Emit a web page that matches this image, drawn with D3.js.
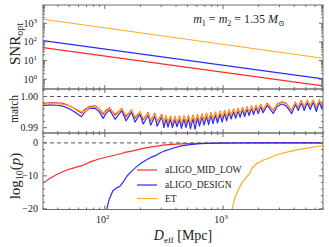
<!DOCTYPE html>
<html lang="en">
<head>
<meta charset="UTF-8">
<title>SNR, match and log10(p) vs D_eff</title>
<script src="https://d3js.org/d3.v7.min.js"></script>
<style>
    body { margin: 0; background: #fff; }
    svg { display: block; font-family: "Liberation Serif", "DejaVu Serif", serif; }
    .frame { fill: none; stroke: #6e6e6e; stroke-width: 1; }
    .tk { stroke: #6e6e6e; stroke-width: 1; }
    .lbl { font-size: 10px; fill: #222; }
</style>
</head>
<body>
<svg id="chart"></svg>
<script>
// ---- data ----
const seriesNames = ["aLIGO_MID_LOW", "aLIGO_DESIGN", "ET"];

// top panel: optimal SNR (straight lines on log-log)
const snrD = [30, 7000];
const snrMidLow = [49, 0.44];
const snrDesign = [117, 1.04];
const snrET = [1640, 13.3];

// middle panel: match
const matchD = [30.0, 34.2, 39.2, 44.1, 50.5, 56.8, 63.5, 67.7, 74.7, 82.3, 89.0, 96.8, 102, 110, 122, 139, 151, 168, 180, 198,
    211, 233, 244, 265, 277, 303, 316, 329, 342, 359, 373, 392, 407, 428, 445, 467, 486, 510, 530, 557,
    579, 608, 632, 664, 690, 725, 754, 791, 822, 863, 897, 944, 981, 1030, 1072, 1125, 1170, 1228, 1277, 1340,
    1393, 1463, 1521, 1597, 1661, 1744, 1813, 1903, 1979, 2078, 2182, 2360, 2655, 2871, 3134, 3420, 3808, 4077, 4325, 4585,
    4858, 5148, 5456, 5791, 6138, 6513, 6840, 7000];
const matchMidLow = [.9978, .9980, .9980, .9978, .9970, .9958, .9947, .9958, .9968, .9970, .9962, .9943, .9955, .9964, .9940, .9962, .9935, .9957, .9930, .9951,
    .9925, .9949, .9922, .9946, .9919, .9943, .9914, .9938, .9915, .9937, .9913, .9936, .9914, .9937, .9912, .9938, .9915, .9939, .9914, .9940,
    .9916, .9942, .9919, .9944, .9921, .9946, .9923, .9948, .9926, .9950, .9928, .9953, .9931, .9955, .9934, .9958, .9938, .9960, .9940, .9962,
    .9943, .9965, .9946, .9967, .9948, .9970, .9951, .9972, .9954, .9975, .9957, .9979, .9956, .9976, .9983, .9978, .9955, .9982, .9965, .9987,
    .9966, .9988, .9970, .9989, .9965, .9989, .9972, .9985];
const matchDesign = [.9971, .9973, .9972, .9969, .9960, .9948, .9935, .9950, .9962, .9963, .9953, .9930, .9945, .9957, .9927, .9955, .9922, .9950, .9918, .9944,
    .9912, .9940, .9908, .9937, .9905, .9935, .9900, .9930, .9902, .9928, .9900, .9926, .9903, .9927, .9898, .9928, .9900, .9930, .9896, .9930,
    .9895, .9932, .9905, .9934, .9908, .9937, .9910, .9939, .9913, .9941, .9915, .9944, .9918, .9946, .9922, .9950, .9928, .9952, .9930, .9954,
    .9933, .9957, .9936, .9960, .9939, .9962, .9942, .9965, .9945, .9968, .9948, .9972, .9946, .9968, .9976, .9970, .9945, .9975, .9955, .9980,
    .9955, .9980, .9958, .9982, .9952, .9982, .9960, .9978];
const matchET = [.9975, .9977, .9977, .9975, .9970, .9960, .9952, .9951, .9964, .9968, .9962, .9948, .9950, .9962, .9945, .9960, .9940, .9955, .9935, .9950,
    .9930, .9946, .9925, .9943, .9922, .9940, .9917, .9936, .9918, .9935, .9916, .9934, .9916, .9935, .9915, .9936, .9917, .9937, .9916, .9938,
    .9918, .9940, .9921, .9942, .9923, .9944, .9925, .9946, .9928, .9948, .9930, .9951, .9933, .9953, .9936, .9956, .9940, .9958, .9942, .9960,
    .9945, .9963, .9948, .9965, .9950, .9968, .9953, .9970, .9956, .9973, .9959, .9977, .9958, .9974, .9981, .9976, .9957, .9980, .9967, .9985,
    .9968, .9986, .9972, .9987, .9967, .9987, .9974, .9983];

// bottom panel: log10(p)
const pMidLowD = [30, 34.2, 39.2, 47, 55.7, 65.1, 77.5, 90.7, 106, 126, 148, 173, 202, 241, 323, 432, 636, 1144, 2250, 7000];
const pMidLow = [-12.2, -10.8, -9.6, -8.3, -7.5, -6.8, -5.6, -4.8, -4.2, -3.6, -2.9, -2.4, -1.8, -1.3, -0.6, -0.3, -0.12, -0.04, -0.01, 0];
const pDesignD = [103.4, 108.1, 116.9, 126.4, 134, 142, 153, 166, 186, 205, 226, 249, 274, 298, 322, 370, 432, 525, 638, 855, 1393, 7000];
const pDesign = [-20.5, -17.5, -14.5, -13.6, -13.2, -12.0, -10.2, -8.8, -7.2, -6.0, -5.1, -4.3, -3.7, -2.9, -2.4, -1.7, -1.0, -0.5, -0.2, -0.06, -0.01, 0];
const pETD = [1186, 1265, 1349, 1440, 1588, 1670, 1750, 1840, 1930, 2060, 2198, 2503, 2851, 3466, 4216, 5120, 6223, 7000];
const pET = [-20.5, -16.3, -14.2, -12.2, -10.2, -9.4, -7.7, -7.0, -6.2, -5.8, -5.2, -4.5, -3.6, -2.8, -2.1, -1.6, -1.1, -0.9];

// ticks
const xMajor = [100, 1000];
const snrMajor = [1, 10, 100, 1000];
const matchMajor = [0.99, 1.00];
const pMajor = [-20, -10, 0];

const colors = ["#ff2a2a", "#2a2aff", "#ffaa22"];

// ---- layout ----
const width = 329, height = 247;
const x0 = 43, x1 = 323;
const panels = [
    { top: 5, bottom: 89 },
    { top: 89, bottom: 133 },
    { top: 133, bottom: 209.5 }
];

const svg = d3.select("#chart").attr("width", width).attr("height", height);

const x = d3.scaleLog().domain([30, 7000]).range([x0, x1]);
const ySnr = d3.scaleLog().domain([0.3, 9500]).range([panels[0].bottom, panels[0].top]);
const yMatch = d3.scaleLinear().domain([0.9883, 1.0024]).range([panels[1].bottom, panels[1].top]);
const yP = d3.scaleLinear().domain([-20.2, 3]).range([panels[2].bottom, panels[2].top]);

const defs = svg.append("defs");
panels.forEach((p, i) => {
    defs.append("clipPath").attr("id", "clip" + i)
        .append("rect").attr("x", x0).attr("y", p.top).attr("width", x1 - x0).attr("height", p.bottom - p.top);
});

function drawSeries(i, ys, xs, vals, color) {
    const line = d3.line().x((d, k) => x(xs[k])).y(d => ys(d));
    svg.append("path")
        .datum(vals)
        .attr("clip-path", `url(#clip${i})`)
        .attr("d", line)
        .attr("fill", "none")
        .attr("stroke", color)
        .attr("stroke-width", 1.2)
        .attr("stroke-linejoin", "round");
}

function dashed(i, ys, v) {
    svg.append("line")
        .attr("x1", x0).attr("x2", x1)
        .attr("y1", ys(v)).attr("y2", ys(v))
        .attr("stroke", "#555").attr("stroke-width", 1)
        .attr("stroke-dasharray", "4,3");
}

function frame(p, ys, yMinor, yMaj) {
    const g = svg.append("g");
    // x ticks, top and bottom, inward
    x.ticks().forEach(t => {
        const len = xMajor.includes(t) ? 4 : 2;
        g.append("line").attr("class", "tk").attr("x1", x(t)).attr("x2", x(t)).attr("y1", p.bottom).attr("y2", p.bottom - len);
        g.append("line").attr("class", "tk").attr("x1", x(t)).attr("x2", x(t)).attr("y1", p.top).attr("y2", p.top + len);
    });
    yMinor.forEach(t => {
        const len = yMaj.some(m => Math.abs(m - t) < 1e-9) ? 4 : 2;
        const yy = ys(t);
        if (yy < p.top || yy > p.bottom) return;
        g.append("line").attr("class", "tk").attr("x1", x0).attr("x2", x0 + len).attr("y1", yy).attr("y2", yy);
        g.append("line").attr("class", "tk").attr("x1", x1).attr("x2", x1 - len).attr("y1", yy).attr("y2", yy);
    });
    g.append("rect").attr("class", "frame")
        .attr("x", x0).attr("y", p.top).attr("width", x1 - x0).attr("height", p.bottom - p.top);
}

// ---- panel 1: SNR ----
[snrMidLow, snrDesign, snrET].forEach((s, k) => drawSeries(0, ySnr, snrD, s, colors[k]));
frame(panels[0], ySnr, ySnr.ticks(), snrMajor);
snrMajor.forEach(t => {
    const txt = svg.append("text").attr("class", "lbl")
        .attr("x", 37).attr("y", ySnr(t) + 3.5).attr("text-anchor", "end");
    txt.append("tspan").text("10");
    txt.append("tspan").attr("dy", -4).attr("font-size", "7px").text(Math.round(Math.log10(t)));
});

// ---- panel 2: match ----
dashed(1, yMatch, 1.0);
[matchMidLow, matchDesign, matchET].forEach((s, k) => drawSeries(1, yMatch, matchD, s, colors[k]));
frame(panels[1], yMatch, d3.range(0.988, 1.0025, 0.002), matchMajor);
matchMajor.forEach(t => {
    svg.append("text").attr("class", "lbl")
        .attr("x", 38).attr("y", yMatch(t) + 3.5).attr("text-anchor", "end")
        .text(d3.format(".2f")(t));
});

// ---- panel 3: log10(p) ----
dashed(2, yP, 0);
[[pMidLowD, pMidLow], [pDesignD, pDesign], [pETD, pET]].forEach(([xs, s], k) => drawSeries(2, yP, xs, s, colors[k]));
frame(panels[2], yP, d3.range(-20, 3, 2), pMajor);
pMajor.forEach(t => {
    svg.append("text").attr("class", "lbl")
        .attr("x", 38).attr("y", yP(t) + 3.5).attr("text-anchor", "end")
        .text(t < 0 ? "\u2212" + Math.abs(t) : t);
});

// x tick labels
xMajor.forEach(t => {
    const txt = svg.append("text").attr("class", "lbl")
        .attr("x", x(t) - 2).attr("y", 223).attr("text-anchor", "middle");
    txt.append("tspan").text("10");
    txt.append("tspan").attr("dy", -4).attr("font-size", "7px").text(Math.round(Math.log10(t)));
});

// legend
const legendY = [170, 185, 198.5];
seriesNames.forEach((name, k) => {
    svg.append("line").attr("x1", 137).attr("x2", 157)
        .attr("y1", legendY[k]).attr("y2", legendY[k])
        .attr("stroke", colors[k]).attr("stroke-width", 1.2);
    svg.append("text").attr("x", 165).attr("y", legendY[k] + 3.3)
        .attr("font-size", "9.5px").attr("fill", "#222").text(name);
});

// annotation
const ann = svg.append("text").attr("x", 239).attr("y", 23).attr("text-anchor", "middle")
    .attr("font-size", "12px").attr("fill", "#222");
ann.append("tspan").attr("font-style", "italic").text("m");
ann.append("tspan").attr("font-size", "8px").attr("dy", 2.5).text("1");
ann.append("tspan").attr("dy", -2.5).text(" = ");
ann.append("tspan").attr("font-style", "italic").text("m");
ann.append("tspan").attr("font-size", "8px").attr("dy", 2.5).text("2");
ann.append("tspan").attr("dy", -2.5).text(" = 1.35 ");
ann.append("tspan").attr("font-style", "italic").text("M");
ann.append("tspan").attr("font-size", "8px").attr("dy", 2.5).text("\u2299");

// axis titles
const t1 = svg.append("text").attr("transform", "translate(20,44) rotate(-90)")
    .attr("text-anchor", "middle").attr("font-size", "15px").attr("fill", "#222");
t1.append("tspan").text("SNR");
t1.append("tspan").attr("font-size", "10px").attr("dy", 3).text("opt");

svg.append("text").attr("transform", "translate(18,109) rotate(-90)")
    .attr("text-anchor", "middle").attr("font-size", "11.5px").attr("fill", "#222").text("match");

const t3 = svg.append("text").attr("transform", "translate(20,176) rotate(-90)")
    .attr("text-anchor", "middle").attr("font-size", "15px").attr("fill", "#222");
t3.append("tspan").text("log");
t3.append("tspan").attr("font-size", "10px").attr("dy", 3).text("10");
t3.append("tspan").attr("dy", -3).text("(");
t3.append("tspan").attr("font-style", "italic").text("p");
t3.append("tspan").text(")");

const xt = svg.append("text").attr("x", 183).attr("y", 240).attr("text-anchor", "middle")
    .attr("font-size", "14px").attr("fill", "#222");
xt.append("tspan").attr("font-style", "italic").text("D");
xt.append("tspan").attr("font-size", "9px").attr("dy", 2.5).text("eff");
xt.append("tspan").attr("dy", -2.5).text(" [Mpc]");
</script>
</body>
</html>
